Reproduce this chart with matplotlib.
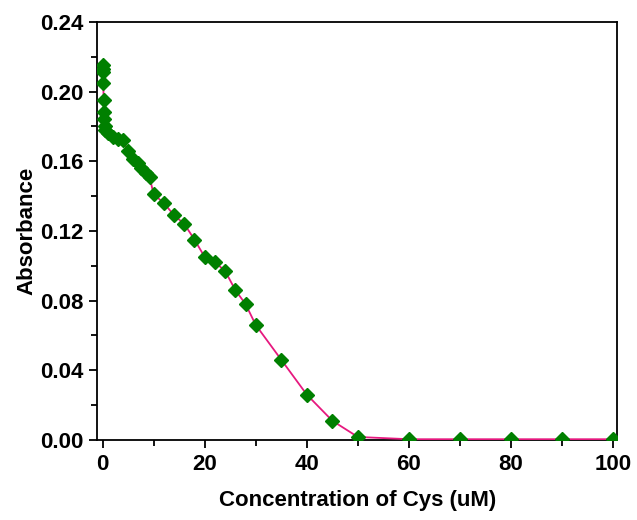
import matplotlib
matplotlib.use("Agg")
import matplotlib.pyplot as plt
from matplotlib.ticker import MultipleLocator

conc = [0, 0.05, 0.1, 0.15, 0.2, 0.25, 0.3, 0.4, 0.5, 1.0, 2, 3, 4, 5, 6, 7, 7.6, 8.6, 9.2,
        10, 12, 14, 16, 18, 20, 22, 24, 26, 28, 30, 35, 40, 45, 50, 60, 70, 80, 90, 100]
absorb = [0.215, 0.213, 0.211, 0.205, 0.195, 0.188, 0.184, 0.180, 0.178, 0.176, 0.174, 0.173,
          0.172, 0.166, 0.161, 0.159, 0.156, 0.153, 0.151,
          0.141, 0.136, 0.129, 0.124, 0.115, 0.105, 0.102, 0.097, 0.086, 0.078, 0.066,
          0.046, 0.026, 0.011, 0.0017, 0.0004, 0.0004, 0.0004, 0.0004, 0.0004]

xticks = [0, 20, 40, 60, 80, 100]
yticks = [0.00, 0.04, 0.08, 0.12, 0.16, 0.20, 0.24]

plt.rcParams['font.family'] = ['Liberation Sans', 'DejaVu Sans']
plt.rcParams['font.weight'] = 'bold'

fig = plt.figure(figsize=(6.37, 5.2), dpi=100)
ax = fig.add_axes([0.153, 0.154, 0.816, 0.804])
ax.plot(conc, absorb, color='#E6197F', lw=1.3, marker='D', markersize=7.5,
        markerfacecolor='#008000', markeredgecolor='#008000', zorder=3)

ax.set_xlim(-1.0, 100.8)
ax.set_ylim(0, 0.24)
ax.set_xticks(xticks)
ax.set_yticks(yticks)
ax.set_xticklabels([str(t) for t in xticks])
ax.set_yticklabels([f"{t:.2f}" for t in yticks])
ax.xaxis.set_minor_locator(MultipleLocator(10))
ax.yaxis.set_minor_locator(MultipleLocator(0.02))
ax.tick_params(which='both', direction='out', width=1.3, labelsize=16, top=False, right=False)
ax.tick_params(which='major', length=6, pad=4)
ax.tick_params(which='minor', length=4)
for s in ax.spines.values():
    s.set_linewidth(1.3)
ax.set_xlabel('Concentration of Cys (uM)', fontsize=16, fontweight='bold', labelpad=11)
ax.set_ylabel('Absorbance', fontsize=16, fontweight='bold', labelpad=2)

fig.savefig('out.png', dpi=100)
